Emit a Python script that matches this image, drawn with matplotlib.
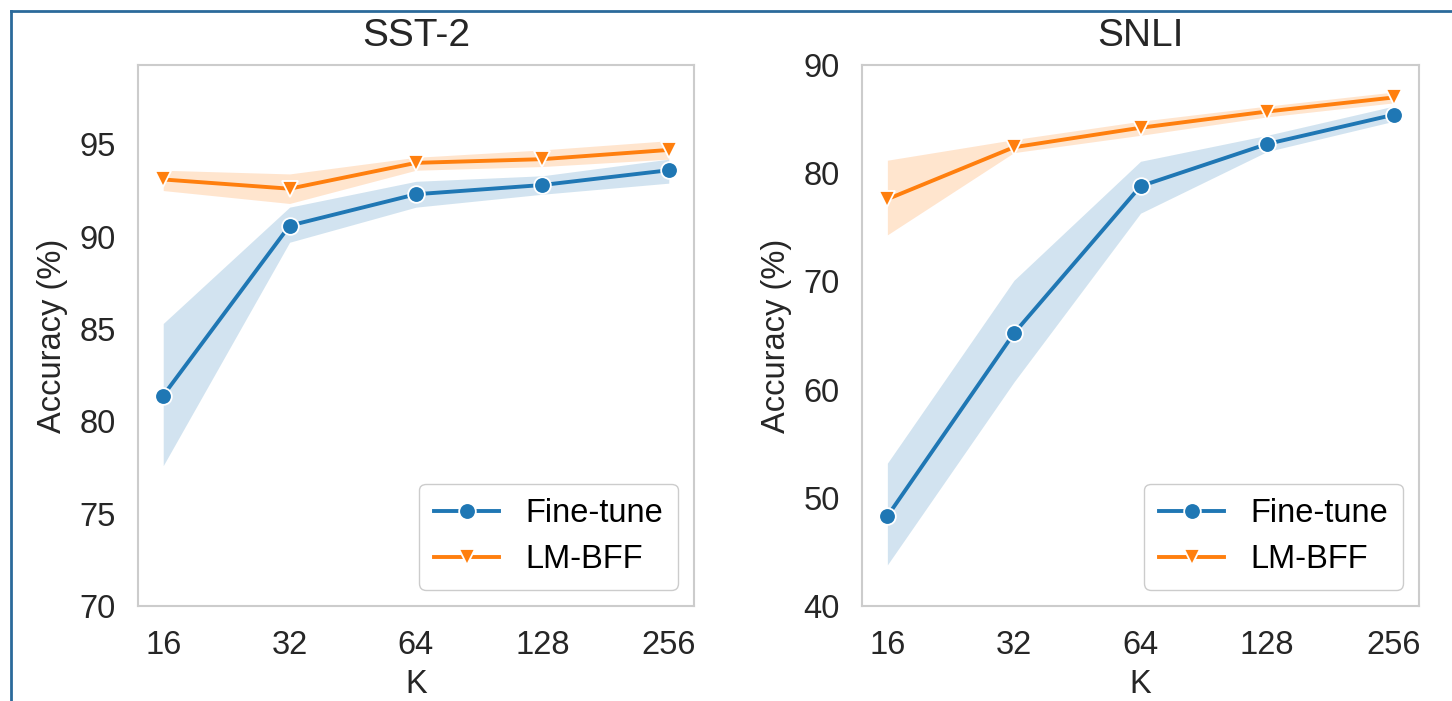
import numpy as np
import matplotlib
matplotlib.use("Agg")
import matplotlib.pyplot as plt
from matplotlib.lines import Line2D

plt.rcParams['font.family'] = ['Liberation Sans', 'DejaVu Sans']

K_LABELS = ["16", "32", "64", "128", "256"]

# SST-2
sst_ft = [81.4, 90.6, 92.3, 92.8, 93.6]
sst_ft_lo = [77.6, 89.7, 91.6, 92.3, 92.9]
sst_ft_hi = [85.3, 91.6, 93.0, 93.3, 94.2]
sst_lm = [93.1, 92.6, 94.0, 94.2, 94.7]
sst_lm_lo = [92.5, 91.8, 93.6, 93.8, 94.2]
sst_lm_hi = [93.6, 93.4, 94.3, 94.7, 95.2]

# SNLI
snli_ft = [48.3, 65.2, 78.8, 82.7, 85.4]
snli_ft_lo = [43.8, 60.7, 76.3, 82.0, 84.8]
snli_ft_hi = [53.2, 70.1, 81.1, 83.5, 86.2]
snli_lm = [77.6, 82.4, 84.2, 85.7, 87.0]
snli_lm_lo = [74.3, 81.9, 83.5, 85.2, 86.5]
snli_lm_hi = [81.2, 83.1, 84.8, 86.2, 87.5]

BLUE = "#1f77b4"
ORANGE = "#ff7f0e"
TXT = "#262626"


def draw(ax, title, ft, ft_lo, ft_hi, lm, lm_lo, lm_hi, ylim, yticks):
    x = np.arange(len(K_LABELS))
    ax.fill_between(x, ft_lo, ft_hi, color=BLUE, alpha=0.2, lw=0)
    ax.fill_between(x, lm_lo, lm_hi, color=ORANGE, alpha=0.2, lw=0)
    ax.plot(x, ft, color=BLUE, lw=2.8, marker="o", ms=12, mec="white", mew=1.3, label="Fine-tune")
    ax.plot(x, lm, color=ORANGE, lw=2.8, marker="v", ms=12, mec="white", mew=1.3, label="LM-BFF")
    ax.set_xlim(-0.2, 4.2)
    ax.set_ylim(*ylim)
    ax.set_yticks(yticks)
    ax.set_xticks(x)
    ax.set_xticklabels(K_LABELS)
    ax.tick_params(axis="both", labelsize=23.5, length=0, colors=TXT)
    ax.tick_params(axis="x", pad=17)
    ax.tick_params(axis="y", pad=16)
    ax.set_xlabel("K", fontsize=23.5, color=TXT, labelpad=6)
    ax.set_ylabel("Accuracy (%)", fontsize=23.5, color=TXT, labelpad=8)
    ax.set_title(title, fontsize=28, color=TXT, pad=14)
    for s in ax.spines.values():
        s.set_color("#cccccc")
        s.set_linewidth(1.5)
    leg = ax.legend(loc="lower right", fontsize=23.5, handlelength=2.0, borderpad=0.45,
                    labelspacing=0.45, handletextpad=0.8, borderaxespad=0.5,
                    fancybox=True, framealpha=1.0)
    leg.get_frame().set_edgecolor("#cccccc")


fig = plt.figure(figsize=(14.52, 7.01), dpi=100)
ax1 = fig.add_axes([0.0950, 0.1355, 0.3830, 0.7718])
ax2 = fig.add_axes([0.5937, 0.1355, 0.3836, 0.7718])

draw(ax1, "SST-2", sst_ft, sst_ft_lo, sst_ft_hi, sst_lm, sst_lm_lo, sst_lm_hi,
     (70, 99.3), [70, 75, 80, 85, 90, 95])
draw(ax2, "SNLI", snli_ft, snli_ft_lo, snli_ft_hi, snli_lm, snli_lm_lo, snli_lm_hi,
     (40, 90), [40, 50, 60, 70, 80, 90])

# blue frame of the screenshot
fig.add_artist(Line2D([11 / 1452, 11 / 1452], [0, 1 - 11 / 701], transform=fig.transFigure,
                      color="#2b6a9b", lw=2))
fig.add_artist(Line2D([11 / 1452, 1], [1 - 11 / 701, 1 - 11 / 701], transform=fig.transFigure,
                      color="#2b6a9b", lw=2))

fig.savefig("out.png", dpi=100)
